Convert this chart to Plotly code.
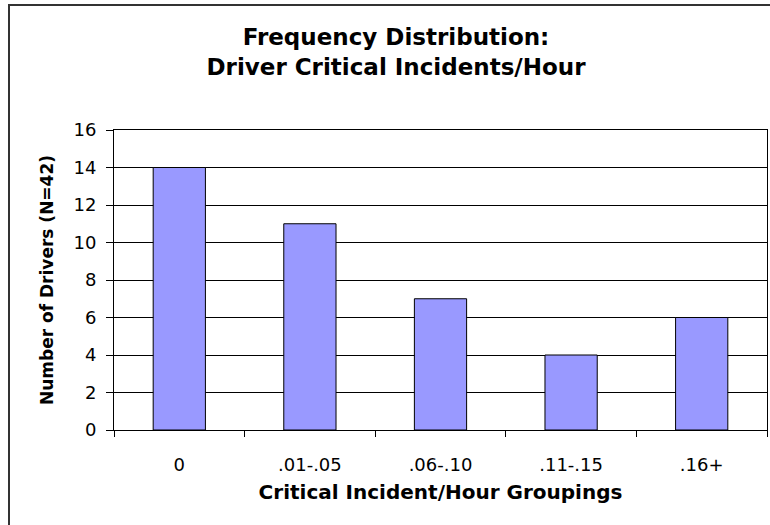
import plotly.graph_objects as go

categories = ["0", ".01-.05", ".06-.10", ".11-.15", ".16+"]
drivers = [14, 11, 7, 4, 6]
y_ticks = [0, 2, 4, 6, 8, 10, 12, 14, 16]

title_text = "Frequency Distribution:<br>Driver Critical Incidents/Hour"
x_title = "Critical Incident/Hour Groupings"
y_title = "Number of Drivers (N=42)"

FONT = "DejaVu Sans"
W, H = 770, 525
L, R, T, B = 114, 3, 130, 95
pw, ph = W - L - R, H - T - B

fig = go.Figure(
    go.Bar(
        x=categories,
        y=drivers,
        marker=dict(color="#9999FF", line=dict(color="black", width=1)),
        showlegend=False,
    )
)

fig.update_layout(
    width=W,
    height=H,
    margin=dict(l=L, r=R, t=T, b=B, pad=0),
    paper_bgcolor="white",
    plot_bgcolor="white",
    bargap=0.6,
    font=dict(family=FONT, color="black", size=18),
    title=dict(
        text=title_text,
        font=dict(family=FONT, size=23, color="black", weight="bold"),
        x=396 / W,
        xref="container",
        xanchor="center",
        y=1 - 45 / H,
        yref="container",
        yanchor="top",
    ),
    shapes=[
        dict(
            type="rect",
            xref="paper",
            yref="paper",
            x0=(9 - L) / pw,
            x1=(772 - L) / pw,
            y0=-(527 - (T + ph)) / ph,
            y1=1 + (T - 5) / ph,
            line=dict(color="#333333", width=2),
            fillcolor="rgba(0,0,0,0)",
        )
    ],
)

fig.update_xaxes(
    type="category",
    showline=True,
    linecolor="black",
    linewidth=1,
    mirror=True,
    ticks="outside",
    tickson="boundaries",
    ticklen=6,
    tickcolor="black",
    tickfont=dict(family=FONT, size=18, color="black"),
    ticklabelstandoff=18,
    showgrid=False,
    title=dict(
        text=x_title,
        font=dict(family=FONT, size=20, color="black", weight="bold"),
        standoff=11,
    ),
)

fig.update_yaxes(
    range=[0, 16],
    tickvals=y_ticks,
    showline=True,
    linecolor="black",
    linewidth=1,
    mirror=True,
    ticks="outside",
    ticklen=7,
    tickcolor="black",
    tickfont=dict(family=FONT, size=18, color="black"),
    ticklabelstandoff=6,
    showgrid=True,
    gridcolor="black",
    gridwidth=1,
    zeroline=False,
    title=dict(
        text=y_title,
        font=dict(family=FONT, size=17, color="black", weight="bold"),
        standoff=15,
    ),
)

fig.write_html(
    "out.html",
    config={"displayModeBar": False},
    post_script="document.body.style.margin='0px';",
)
